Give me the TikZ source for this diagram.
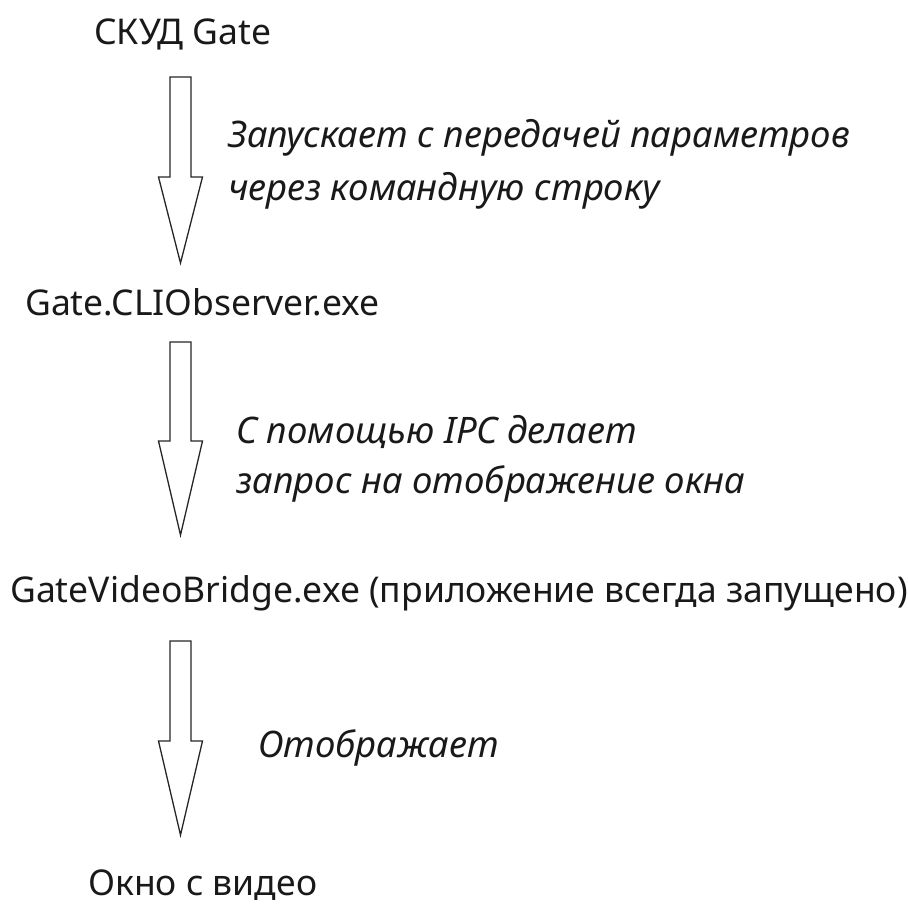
\documentclass[tikz,border=0pt]{standalone}
\usepackage{fontspec}
\setmainfont{Noto Sans}
\usetikzlibrary{calc,positioning}

\begin{document}
\begin{tikzpicture}[x=1pt,y=-1pt,
  prog/.style={anchor=base west,inner sep=0pt,text=black!90,font=\fontsize{35.5}{42}\selectfont},
  note/.style={anchor=base west,inner sep=0pt,align=left,text=black!90,font=\fontsize{36.5}{49.5}\selectfont\itshape},
  hollow/.style={draw=black!85,line width=1.3pt,fill=white,line join=miter}]
  \useasboundingbox (0,0) rectangle (908,907);
  % programs
  \node[prog] (skud) at (94,45) {СКУД Gate};
  \node[prog] (cli) at (25,315) {Gate.CLIObserver.exe};
  \node[prog] (bridge) at (10,602) {GateVideoBridge.exe (приложение всегда запущено)};
  \node[prog] (okno) at (88,895) {Окно с видео};
  % arrow ends
  \coordinate (a1s) at (180.5,77);  \coordinate (a1m) at (180.5,177); \coordinate (a1e) at (180.5,263);
  \coordinate (a2s) at (180.5,342); \coordinate (a2m) at (180.5,441); \coordinate (a2e) at (180.5,535);
  \coordinate (a3s) at (180.5,641); \coordinate (a3m) at (180.5,741); \coordinate (a3e) at (180.5,835);
  \foreach \s/\m/\e in {a1s/a1m/a1e,a2s/a2m/a2e,a3s/a3m/a3e} {\draw[hollow] ($(\s)+(-10.5,0)$)--($(\s)+(10.5,0)$)--($(\m)+(10.5,0)$)--($(\m)+(22,0)$)--(\e)--($(\m)+(-22,0)$)--($(\m)+(-10.5,0)$)--cycle;}
  % what each step does (base = last line)
  \node[note,font=\fontsize{36.5}{53}\selectfont\itshape] (n1) at (228,200) {Запускает с передачей параметров\\через командную строку};
  \node[note] (n2) at (236,493) {С помощью IPC делает\\запрос на отображение окна};
  \node[note] (n3) at (258,757) {Отображает};
\end{tikzpicture}
\end{document}
